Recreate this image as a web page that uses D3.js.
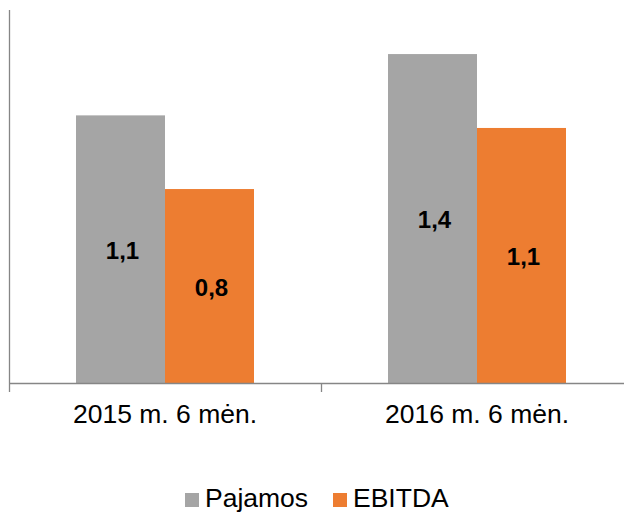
<!DOCTYPE html>
<html>
<head>
<meta charset="utf-8">
<script src="https://cdn.jsdelivr.net/npm/d3@7"></script>
<style>
  body { margin: 0; background: #fff; }
  svg { display: block; font-family: Arial, "Liberation Sans", sans-serif; }
</style>
</head>
<body>
<div class="container"></div>
<script>
const categories = ["2015 m. 6 mėn.", "2016 m. 6 mėn."];
const seriesNames = ["Pajamos", "EBITDA"];
const pajamos = [1.148, 1.411];
const ebitda = [0.832, 1.094];
const colors = ["#a5a5a5", "#ed7d31"];

const width = 624, height = 514;

const data = categories.map((c, i) => ({
    category: c,
    values: [
        {key: seriesNames[0], value: pajamos[i]},
        {key: seriesNames[1], value: ebitda[i]}
    ]
}));

const svg = d3.select(".container")
    .append("svg")
    .attr("width", width)
    .attr("height", height);

const x0 = d3.scaleBand()
    .domain(categories)
    .range([9, 633])
    .padding(0);

const x1 = d3.scaleBand()
    .domain(seriesNames)
    .range([0, x0.bandwidth()])
    .paddingInner(0)
    .paddingOuter(0.753);

const y = d3.scaleLinear()
    .domain([0, 1.6])
    .range([383, 10]);

const color = d3.scaleOrdinal().domain(seriesNames).range(colors);
const fmt = v => d3.format(".1f")(v).replace(".", ",");

// bars
const groups = svg.append("g")
    .selectAll("g")
    .data(data)
    .join("g")
    .attr("transform", d => `translate(${x0(d.category)},0)`);

groups.selectAll("rect")
    .data(d => d.values)
    .join("rect")
    .attr("x", d => x1(d.key))
    .attr("y", d => y(d.value))
    .attr("width", x1.bandwidth())
    .attr("height", d => y(0) - y(d.value))
    .attr("fill", d => color(d.key));

groups.selectAll("text")
    .data(d => d.values)
    .join("text")
    .attr("x", d => x1(d.key) + x1.bandwidth() / 2 + 2)
    .attr("y", d => (y(d.value) + y(0)) / 2)
    .attr("dy", "0.4em")
    .attr("text-anchor", "middle")
    .attr("font-family", "'Liberation Sans', Arial, sans-serif")
    .attr("font-weight", 700)
    .attr("font-size", 24)
    .attr("fill", "#000")
    .text(d => fmt(d.value));

// vertical axis line
svg.append("line")
    .attr("x1", 9.5).attr("x2", 9.5)
    .attr("y1", y(1.6)).attr("y2", y(0))
    .attr("stroke", "#868686")
    .attr("stroke-width", 1.3);

// category labels
const x_axis = d3.axisBottom(x0).tickSize(0).tickPadding(21);
svg.append("g")
    .attr("transform", `translate(0,${y(0)})`)
    .call(x_axis)
    .call(g => g.select(".domain").remove())
    .call(g => g.selectAll(".tick text")
        .attr("font-size", 26.5)
        .attr("font-family", "'Liberation Sans', Arial, sans-serif")
        .attr("fill", "#000"));

// baseline with ticks at category boundaries
const bounds = categories.map(c => x0(c)).concat([x0.range()[1]]);
svg.append("line")
    .attr("x1", 9).attr("x2", width)
    .attr("y1", y(0) + 0.5).attr("y2", y(0) + 0.5)
    .attr("stroke", "#868686")
    .attr("stroke-width", 1.3);
svg.append("g")
    .selectAll("line")
    .data(bounds)
    .join("line")
    .attr("x1", d => Math.round(d) + 0.5)
    .attr("x2", d => Math.round(d) + 0.5)
    .attr("y1", y(0))
    .attr("y2", y(0) + 9)
    .attr("stroke", "#868686")
    .attr("stroke-width", 1.3);

// legend
const legend = svg.append("g").attr("transform", "translate(0,507)");
const items = [
    {name: seriesNames[0], x: 185},
    {name: seriesNames[1], x: 333}
];
items.forEach(it => {
    legend.append("rect")
        .attr("x", it.x)
        .attr("y", -14)
        .attr("width", 14)
        .attr("height", 14)
        .attr("fill", color(it.name));
    legend.append("text")
        .attr("x", it.x + 20)
        .attr("y", 0)
        .attr("font-size", 26.5)
        .attr("fill", "#000")
        .text(it.name);
});
</script>
</body>
</html>
